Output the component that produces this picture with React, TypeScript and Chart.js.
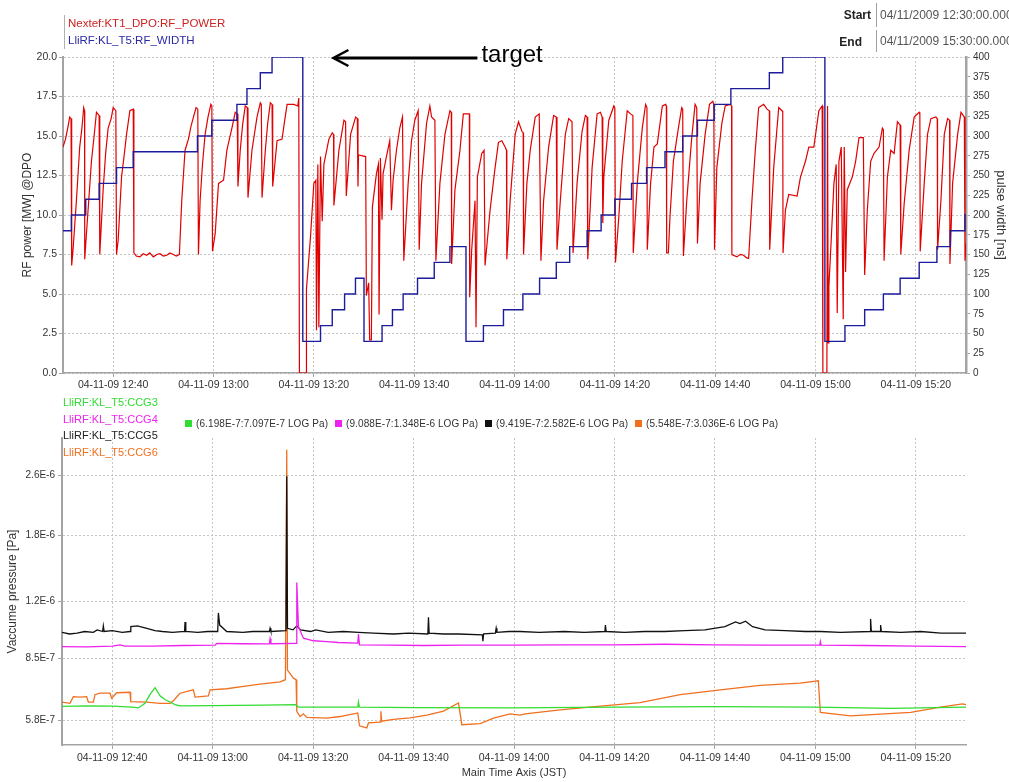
import React, { useEffect, useRef } from "react";
import { Chart, registerables } from "chart.js";

Chart.register(...registerables);

const FONT = '"Liberation Sans", Arial, Helvetica, sans-serif';

// Time axis: minutes after 04-11-09 12:30 JST (window 12:30 - 15:30)
const timeMin = 0;
const timeMax = 180;
const timeTickMinutes = [10, 30, 50, 70, 90, 110, 130, 150, 170];
const timeTickLabels = [
  "04-11-09 12:40", "04-11-09 13:00", "04-11-09 13:20", "04-11-09 13:40", "04-11-09 14:00",
  "04-11-09 14:20", "04-11-09 14:40", "04-11-09 15:00", "04-11-09 15:20",
];

// Nextef:KT1_DPO:RF_POWER [MW]
const rfTime = [
  0, 0.5, 1.0, 1.33, 1.6, 1.73, 2.0, 2.67, 3.33, 3.8, 4.13, 4.3, 4.33, 4.67, 5.67, 6.2, 6.67, 7.2, 7.33, 8.0,
  8.5, 9.0, 9.6, 10.0, 10.53, 10.67, 11.0, 11.67, 12.2, 12.67, 13.33, 14.0, 14.13, 14.6, 15.33, 16.0, 16.67, 17.3, 18.0, 18.7,
  19.33, 20.0, 20.67, 21.3, 22.0, 22.6, 23.2, 23.67, 24.33, 25.0, 25.5, 26.0, 26.53, 26.87, 27.0, 27.33, 27.8, 28.33, 28.9, 29.47,
  29.67, 29.8, 30.33, 31.0, 32.0, 32.67, 33.67, 34.33, 34.73, 34.87, 35.33, 35.8, 36.33, 36.73, 36.87, 37.67, 38.67, 39.33, 39.53, 39.67,
  40.33, 40.8, 41.33, 41.67, 41.8, 42.67, 43.67, 44.2, 44.67, 46.0, 46.8, 47.0, 47.13, 48.47, 48.53, 49.33, 50.0, 50.4, 50.53, 50.8,
  51.0, 51.33, 51.67, 52.0, 53.0, 53.67, 53.93, 54.0, 55.0, 56.0, 56.33, 56.47, 57.33, 58.33, 58.67, 58.8, 58.9, 60.33, 60.47, 60.93,
  61.13, 61.47, 61.67, 62.47, 62.87, 63.0, 63.27, 63.6, 63.8, 64.47, 65.13, 65.47, 65.8, 66.47, 67.13, 67.67, 67.93, 68.8, 69.47, 70.13,
  70.8, 71.0, 71.47, 72.47, 73.13, 73.47, 74.13, 74.33, 75.13, 76.13, 77.13, 77.4, 77.47, 78.13, 79.13, 79.8, 81.0, 81.07, 81.47, 82.13,
  82.33, 82.6, 83.47, 83.93, 84.13, 85.13, 86.13, 86.8, 87.47, 88.13, 88.4, 88.47, 89.13, 90.13, 90.8, 91.47, 91.73, 91.8, 92.47, 93.13,
  94.13, 94.93, 95.27, 95.8, 96.8, 97.8, 98.33, 98.47, 99.13, 100.13, 100.8, 101.47, 101.67, 102.47, 103.47, 104.13, 104.47, 104.6, 105.47, 106.47,
  107.13, 107.47, 107.6, 107.8, 108.8, 109.8, 110.0, 110.13, 110.8, 111.47, 112.47, 113.13, 113.6, 113.67, 114.47, 115.47, 116.13, 116.4, 116.47, 117.13,
  117.8, 118.47, 119.47, 120.13, 120.27, 120.33, 120.67, 121.0, 121.67, 122.67, 123.33, 123.53, 123.67, 124.33, 125.33, 126.0, 126.33, 126.47, 127.0, 128.0,
  128.87, 129.53, 129.73, 129.87, 130.33, 131.33, 132.0, 133.0, 133.27, 133.33, 134.33, 135.0, 135.67, 136.2, 136.67, 137.33, 138.0, 138.67, 139.67, 140.33,
  140.8, 140.87, 141.67, 142.67, 143.33, 143.47, 143.53, 144.0, 144.67, 146.33, 147.0, 148.0, 148.67, 149.67, 150.67, 151.33, 151.47, 152.27, 152.4, 152.53,
  152.67, 153.13, 153.67, 154.13, 154.33, 154.67, 155.13, 155.53, 155.73, 156.0, 156.33, 157.33, 158.0, 158.67, 159.53, 159.8, 160.33, 161.0, 161.67, 162.67,
  163.33, 163.53, 163.67, 164.33, 165.0, 165.67, 166.33, 166.87, 167.0, 167.67, 168.67, 169.67, 170.67, 170.8, 170.87, 171.67, 172.33, 173.0, 174.0, 174.27,
  174.33, 175.0, 175.67, 176.33, 176.73, 176.8, 177.33, 178.33, 179.0, 179.67, 179.8, 180.0,
];
const rfPower = [
  14.3, 14.8, 15.6, 16.2, 16.1, 6.8, 7.8, 10.9, 14.3, 15.6, 16.8, 16.6, 7.2, 8.8, 13.4, 15.0, 16.5, 16.3, 7.5, 11.6,
  13.9, 15.5, 16.1, 16.8, 16.6, 7.5, 8.4, 12.4, 13.8, 15.1, 16.6, 16.7, 7.6, 7.4, 7.35, 7.55, 7.45, 7.6, 7.35, 7.5,
  7.55, 7.4, 7.45, 7.6, 7.5, 7.4, 7.5, 10.9, 14.1, 14.8, 15.6, 16.2, 16.8, 16.7, 7.5, 10.9, 13.2, 15.1, 16.2, 17.0,
  16.9, 7.7, 8.8, 12.0, 12.2, 14.1, 15.5, 16.5, 16.4, 11.8, 14.1, 15.7, 16.9, 16.8, 11.1, 14.1, 16.2, 17.1, 17.0, 11.1,
  14.1, 15.8, 17.1, 17.0, 11.8, 14.7, 14.8, 16.0, 17.0, 17.0, 16.9, 17.4, 0, 0, 5.3, 8.6, 12.0, 12.2, 2.7, 13.2,
  2.9, 13.7, 9.6, 13.2, 14.8, 15.2, 15.1, 10.6, 14.1, 16.0, 15.9, 11.2, 15.1, 16.2, 16.1, 11.8, 13.8, 13.7, 4.9, 5.7,
  2.1, 2.1, 10.5, 12.6, 13.2, 3.7, 13.6, 9.7, 12.6, 13.7, 14.7, 10.3, 12.2, 14.1, 15.5, 16.2, 7.1, 12.0, 14.7, 16.0,
  16.6, 7.8, 12.0, 15.8, 16.9, 16.2, 16.0, 7.1, 12.0, 15.1, 16.6, 16.5, 6.9, 11.6, 14.1, 16.4, 16.4, 4.8, 7.8, 10.9,
  2.9, 12.4, 13.9, 14.1, 6.8, 10.3, 13.0, 14.6, 14.7, 14.3, 14.1, 7.2, 10.9, 15.1, 15.9, 15.3, 15.2, 7.5, 12.0, 14.1,
  16.2, 16.4, 7.1, 10.9, 14.3, 16.3, 16.2, 7.8, 10.9, 15.1, 16.1, 15.9, 7.6, 12.0, 15.3, 16.3, 16.2, 7.2, 13.0, 16.4,
  16.5, 16.2, 9.5, 12.4, 16.0, 16.9, 16.8, 7.0, 9.9, 13.4, 16.6, 16.4, 16.3, 7.6, 12.0, 15.5, 17.0, 16.8, 7.8, 12.0,
  14.3, 14.5, 16.9, 17.0, 16.9, 7.6, 7.6, 9.9, 13.4, 15.5, 16.8, 16.7, 7.4, 10.9, 14.9, 17.0, 16.8, 8.2, 12.0, 15.1,
  17.0, 17.2, 17.0, 7.8, 13.0, 15.8, 16.9, 17.0, 16.9, 7.5, 7.35, 7.5, 7.45, 7.3, 7.25, 10.9, 14.1, 16.8, 17.0, 16.7,
  16.6, 7.8, 13.0, 16.8, 16.6, 16.5, 7.6, 10.3, 11.3, 11.2, 12.4, 13.4, 14.3, 14.3, 16.6, 16.9, 0, 0, 16.9, 1.9,
  5.5, 8.4, 12.0, 13.2, 3.8, 13.4, 14.3, 3.4, 14.3, 6.4, 11.6, 12.4, 13.4, 14.9, 14.9, 6.2, 10.3, 13.4, 13.9, 14.3,
  15.5, 15.4, 7.1, 12.4, 14.1, 13.9, 15.9, 15.7, 7.5, 10.7, 14.1, 16.2, 16.5, 16.4, 7.7, 12.0, 15.1, 16.1, 16.2, 16.1,
  7.8, 10.9, 15.1, 16.1, 16.0, 6.9, 12.0, 15.1, 16.5, 16.2, 7.1, 8.2,
];

// LliRF:KL_T5:RF_WIDTH [ns] - each value holds from its time until the next one
const widthTime = [
  0, 1.67, 4.53, 7.2, 10.67, 14.0, 26.8, 29.67, 34.67, 36.67, 39.33, 41.67, 47.8, 51.33, 53.67, 56.13, 58.3, 60.0,
  63.6, 65.67, 67.8, 70.67, 74.0, 77.13, 80.33, 83.8, 87.8, 91.67, 95.0, 98.33, 101.0, 104.47, 107.27, 110.0, 113.33, 116.33,
  120.0, 123.53, 126.47, 129.8, 133.13, 140.8, 143.47, 151.87, 155.87, 159.8, 163.53, 166.87, 170.67, 174.2, 176.87, 179.8, 180,
];
const widthNs = [
  180, 200, 220, 240, 260, 280, 300, 320, 340, 360, 380, 400, 40, 60, 80, 100, 120, 40,
  60, 80, 100, 120, 140, 160, 40, 60, 80, 100, 120, 140, 160, 180, 200, 220, 240, 260,
  280, 300, 320, 340, 360, 380, 400, 40, 60, 80, 100, 120, 140, 160, 180, 200, 200,
];

// Left axis (RF power) and right axis (pulse width) ranges
const powerMax = 20;
const powerStep = 2.5;
const widthMax = 400;
const widthStep = 25;

// Vacuum gauges [Pa]
const ccg3Time = [0, 5, 10, 14, 15.2, 16.53, 17.5, 18.52, 19.52, 20.5, 21.51, 22.5, 23.5, 30, 40, 46.5, 47.08, 55, 58.9, 59.03, 59.23, 70, 90, 110, 130, 150, 165, 180];
const ccg3 = [6.33e-7, 6.35e-7, 6.34e-7, 6.3e-7, 6.27e-7, 6.45e-7, 6.8e-7, 7.097e-7, 6.75e-7, 6.6e-7, 6.5e-7, 6.4e-7, 6.35e-7, 6.36e-7, 6.38e-7, 6.4e-7, 6.3e-7, 6.3e-7, 6.3e-7, 6.5e-7, 6.3e-7, 6.28e-7, 6.27e-7, 6.3e-7, 6.32e-7, 6.3e-7, 6.25e-7, 6.3e-7];

const ccg4Time = [0, 5, 10, 11.55, 12.5, 18, 24, 30.5, 30.81, 36, 41.3, 41.43, 41.6, 46.6, 46.75, 47.08, 48.07, 50.07, 52.72, 55, 58.9, 59.03, 59.23, 65, 72, 80, 90, 100, 110, 120, 130, 140, 150.9, 151, 151.15, 160, 170, 180];
const ccg4 = [9.12e-7, 9.1e-7, 9.15e-7, 9.22e-7, 9.15e-7, 9.15e-7, 9.18e-7, 9.2e-7, 9.3e-7, 9.28e-7, 9.27e-7, 9.56e-7, 9.28e-7, 9.3e-7, 1.348e-6, 1.03e-6, 9.6e-7, 9.45e-7, 9.4e-7, 9.35e-7, 9.32e-7, 9.85e-7, 9.22e-7, 9.2e-7, 9.18e-7, 9.2e-7, 9.2e-7, 9.22e-7, 9.22e-7, 9.25e-7, 9.22e-7, 9.2e-7, 9.2e-7, 9.4e-7, 9.2e-7, 9.18e-7, 9.15e-7, 9.12e-7];

const ccg5Time = [
  0, 1.5, 3, 4.5, 6.24, 7.0, 8.1, 8.23, 8.4, 10, 12, 13.55, 13.7, 15, 16.9, 18.5, 20, 22, 24.4, 24.5,
  24.65, 27, 29, 31.0, 31.14, 31.4, 32.8, 36, 38, 41.3, 41.43, 41.6, 44.6, 44.75, 44.9, 46.0, 46.75, 47.5, 49.5, 50.5,
  53, 56, 59.03, 62, 66, 69, 72.85, 72.97, 73.1, 76, 79, 83.7, 83.8, 83.95, 86.3, 86.45, 86.6, 89, 91.2, 95,
  100, 104, 108.1, 108.2, 108.35, 112, 116, 120, 124, 128, 132, 134.1, 135, 136.1, 137.5, 140, 144, 148, 151, 155,
  160.9, 161, 161.15, 162.9, 163, 163.15, 167, 171, 175, 180,
];
const ccg5 = [
  9.95e-7, 9.85e-7, 9.9e-7, 1.0e-6, 9.95e-7, 1.01e-6, 1.0e-6, 1.035e-6, 1.0e-6, 1.005e-6, 9.95e-7, 1.0e-6, 1.03e-6, 1.035e-6, 1.02e-6, 1.005e-6, 1.0e-6, 9.95e-7, 1.0e-6, 1.06e-6,
  1.0e-6, 9.95e-7, 1.0e-6, 1.0e-6, 1.12e-6, 1.04e-6, 1.0e-6, 9.95e-7, 1.0e-6, 1.0e-6, 1.02e-6, 1.0e-6, 1.005e-6, 2.582e-6, 1.02e-6, 1.01e-6, 1.035e-6, 1.01e-6, 1.0e-6, 1.01e-6,
  9.95e-7, 1.0e-6, 9.95e-7, 9.9e-7, 9.85e-7, 9.9e-7, 9.85e-7, 1.09e-6, 9.9e-7, 9.85e-7, 9.85e-7, 9.8e-7, 9.42e-7, 9.85e-7, 9.9e-7, 1.02e-6, 9.95e-7, 1.0e-6, 1.0e-6, 9.95e-7,
  1.0e-6, 9.95e-7, 1.0e-6, 1.04e-6, 1.0e-6, 9.95e-7, 1.0e-6, 1.0e-6, 1.005e-6, 1.01e-6, 1.03e-6, 1.06e-6, 1.05e-6, 1.065e-6, 1.03e-6, 1.01e-6, 1.005e-6, 1.0e-6, 1.0e-6, 9.95e-7,
  1.0e-6, 1.08e-6, 1.0e-6, 1.0e-6, 1.04e-6, 1.0e-6, 9.95e-7, 1.0e-6, 9.9e-7, 9.9e-7,
];

const ccg6Time = [
  0, 1.59, 2.26, 3.58, 4.91, 5.24, 6.24, 6.57, 7.57, 9.56, 9.89, 10.89, 13.55, 13.68, 16.87, 19.52, 21.51, 22.18, 23.5, 26.16,
  26.49, 29.15, 29.48, 32.8, 36.12, 39.44, 43.42, 44.49, 44.75, 44.89, 46.08, 46.61, 46.75, 47.41, 48.07, 48.74, 52.72, 55.38, 58.03, 58.9,
  59.23, 60.69, 61.02, 63.35, 63.5, 63.65, 66.0, 69.32, 72.64, 75.96, 78.95, 79.61, 83.27, 85.92, 89.24, 91.2, 92.2, 99.2, 107.2, 115.1,
  123.1, 131.1, 139, 147, 150.6, 151, 157, 163, 169, 174.9, 179.3, 180,
];
const ccg6 = [
  6.5e-7, 6.45e-7, 6.72e-7, 6.7e-7, 6.72e-7, 6.5e-7, 6.5e-7, 6.8e-7, 6.86e-7, 6.86e-7, 6.65e-7, 6.88e-7, 6.9e-7, 6.52e-7, 6.5e-7, 6.45e-7, 6.45e-7, 6.55e-7, 6.86e-7, 7.0e-7,
  6.7e-7, 6.75e-7, 7.0e-7, 7.05e-7, 7.15e-7, 7.25e-7, 7.35e-7, 7.45e-7, 3.036e-6, 7.9e-7, 7.52e-7, 7.45e-7, 6.14e-7, 5.95e-7, 6.05e-7, 5.92e-7, 5.89e-7, 5.95e-7, 6.05e-7, 6.08e-7,
  5.62e-7, 5.55e-7, 5.72e-7, 5.75e-7, 6.14e-7, 5.78e-7, 5.85e-7, 5.9e-7, 6.0e-7, 6.15e-7, 6.46e-7, 5.66e-7, 5.7e-7, 5.89e-7, 6.05e-7, 6.0e-7, 6.05e-7, 6.2e-7, 6.34e-7, 6.48e-7,
  6.8e-7, 7.0e-7, 7.2e-7, 7.3e-7, 7.4e-7, 6.1e-7, 5.97e-7, 6.04e-7, 6.1e-7, 6.3e-7, 6.43e-7, 6.4e-7,
];

// Log axis of the vacuum chart
const pressureMin = 5.0e-7;
const pressureMax = 3.26e-6;
const pressureTicks = [5.8e-7, 8.5e-7, 1.2e-6, 1.8e-6, 2.6e-6];
const pressureTickLabels = ["5.8E-7", "8.5E-7", "1.2E-6", "1.8E-6", "2.6E-6"];

// Series names and colours
const RED = "#e00000";
const BLUE = "#1c1c9c";
const GREEN = "#30dd30";
const MAGENTA = "#ee22ee";
const BLACK = "#111111";
const ORANGE = "#f07020";

const ccgNames = ["LliRF:KL_T5:CCG3", "LliRF:KL_T5:CCG4", "LliRF:KL_T5:CCG5", "LliRF:KL_T5:CCG6"];
const ccgColors = [GREEN, MAGENTA, BLACK, ORANGE];
const ccgRanges = [
  "(6.198E-7:7.097E-7 LOG Pa)",
  "(9.088E-7:1.348E-6 LOG Pa)",
  "(9.419E-7:2.582E-6 LOG Pa)",
  "(5.548E-7:3.036E-6 LOG Pa)",
];

// Annotation arrow (minutes on the time axis)
const arrowTipMinute = 53.9;
const arrowTailMinute = 82.6;

const toPoints = (xs: number[], ys: number[]) => xs.map((x, i) => ({ x, y: ys[i] }));

const GRID = "#c6c6c6";
const AXIS = "#a4a4a4";
const TICK_TEXT = "#333333";

function timeAxis(height: number, withTitle: boolean) {
  return {
    type: "linear",
    min: timeMin,
    max: timeMax,
    afterBuildTicks: (s: any) => {
      s.ticks = timeTickMinutes.map((v) => ({ value: v }));
    },
    afterFit: (s: any) => {
      s.height = height;
    },
    ticks: {
      autoSkip: false,
      maxRotation: 0,
      callback: (_v: any, i: number) => timeTickLabels[i],
      font: { family: FONT, size: 10.5 },
      color: TICK_TEXT,
      padding: withTitle ? 3 : 2,
    },
    grid: { color: GRID, lineWidth: 1, tickLength: 4, tickColor: AXIS, tickBorderDash: [] },
    border: { color: AXIS, width: 1.5, dash: [2, 2] },
    title: withTitle
      ? { display: true, text: "Main Time Axis (JST)", color: TICK_TEXT, font: { family: FONT, size: 11 }, padding: { top: 0, bottom: 2 } }
      : { display: false },
  };
}

const targetArrow = {
  id: "targetArrow",
  afterDatasetsDraw(chart: any) {
    const { ctx } = chart;
    const xs = chart.scales.x;
    const ys = chart.scales.yPower;
    const tip = xs.getPixelForValue(arrowTipMinute);
    const tail = xs.getPixelForValue(arrowTailMinute);
    const y = ys.getPixelForValue(powerMax) + 1;
    ctx.save();
    ctx.strokeStyle = "#000";
    ctx.lineWidth = 3;
    ctx.beginPath();
    ctx.moveTo(tip + 2, y);
    ctx.lineTo(tail, y);
    ctx.stroke();
    ctx.lineWidth = 2.5;
    ctx.beginPath();
    ctx.moveTo(tip + 15, y - 8);
    ctx.lineTo(tip, y);
    ctx.lineTo(tip + 15, y + 8);
    ctx.stroke();
    ctx.fillStyle = "#000";
    ctx.font = `24px ${FONT}`;
    ctx.textBaseline = "middle";
    ctx.fillText("target", tail + 4, y - 3);
    ctx.restore();
  },
};

export default function App() {
  const topRef = useRef<HTMLCanvasElement>(null);
  const bottomRef = useRef<HTMLCanvasElement>(null);

  useEffect(() => {
    const top = new Chart(topRef.current as HTMLCanvasElement, {
      type: "line",
      data: {
        datasets: [
          {
            label: "LliRF:KL_T5:RF_WIDTH",
            data: toPoints(widthTime, widthNs),
            borderColor: BLUE,
            borderWidth: 1.4,
            pointRadius: 0,
            stepped: true,
            yAxisID: "yWidth",
            order: 0,
          },
          {
            label: "Nextef:KT1_DPO:RF_POWER",
            data: toPoints(rfTime, rfPower),
            borderColor: RED,
            borderWidth: 1.2,
            pointRadius: 0,
            tension: 0,
            yAxisID: "yPower",
            order: 1,
          },
        ],
      },
      options: {
        responsive: false,
        animation: false,
        events: [],
        layout: { padding: { top: 57, left: 0, right: 0, bottom: 0 } },
        plugins: { legend: { display: false }, tooltip: { enabled: false } },
        scales: {
          x: timeAxis(22, false),
          yPower: {
            type: "linear",
            position: "left",
            min: 0,
            max: powerMax,
            afterFit: (s: any) => {
              s.width = 63;
            },
            ticks: {
              stepSize: powerStep,
              autoSkip: false,
              callback: (v: any) => Number(v).toFixed(1),
              font: { family: FONT, size: 10.5 },
              color: TICK_TEXT,
              padding: 2,
            },
            grid: { color: GRID, tickLength: 4, tickColor: AXIS, tickBorderDash: [] },
            border: { color: AXIS, width: 2, dash: [2, 2] },
            title: {
              display: true,
              text: "RF power [MW] @DPO",
              color: TICK_TEXT,
              font: { family: FONT, size: 12 },
              padding: { top: 20, bottom: 0 },
            },
          },
          yWidth: {
            type: "linear",
            position: "right",
            min: 0,
            max: widthMax,
            afterFit: (s: any) => {
              s.width = 43;
            },
            ticks: {
              stepSize: widthStep,
              autoSkip: false,
              font: { family: FONT, size: 10 },
              color: TICK_TEXT,
              padding: 3,
            },
            grid: { drawOnChartArea: false, tickLength: 4, tickColor: AXIS },
            border: { color: AXIS, width: 2.5 },
            title: {
              display: true,
              text: "pulse width [ns]",
              color: TICK_TEXT,
              font: { family: FONT, size: 13 },
              padding: { top: 1, bottom: 0 },
            },
          },
        },
      } as any,
      plugins: [targetArrow],
    } as any);

    const ccgTimes = [ccg3Time, ccg4Time, ccg5Time, ccg6Time];
    const ccgValues = [ccg3, ccg4, ccg5, ccg6];
    const bottom = new Chart(bottomRef.current as HTMLCanvasElement, {
      type: "line",
      data: {
        datasets: ccgNames.map((name, i) => ({
          label: name,
          data: toPoints(ccgTimes[i], ccgValues[i]),
          borderColor: ccgColors[i],
          borderWidth: 1.3,
          pointRadius: 0,
          tension: 0,
          order: i,
        })),
      },
      options: {
        responsive: false,
        animation: false,
        events: [],
        layout: { padding: { top: 43, left: 0, right: 43, bottom: 0 } },
        plugins: { legend: { display: false }, tooltip: { enabled: false } },
        scales: {
          x: timeAxis(37, true),
          y: {
            type: "logarithmic",
            position: "left",
            min: pressureMin,
            max: pressureMax,
            afterBuildTicks: (s: any) => {
              s.ticks = pressureTicks.map((v) => ({ value: v }));
            },
            afterFit: (s: any) => {
              s.width = 62;
            },
            ticks: {
              autoSkip: false,
              callback: (_v: any, i: number) => pressureTickLabels[i],
              font: { family: FONT, size: 10 },
              color: TICK_TEXT,
              padding: 3,
            },
            grid: { color: GRID, tickLength: 4, tickColor: AXIS, tickBorderDash: [] },
            border: { color: AXIS, width: 2, dash: [2, 2] },
            title: {
              display: true,
              text: "Vaccume pressure [Pa]",
              color: TICK_TEXT,
              font: { family: FONT, size: 12 },
              padding: { top: 5, bottom: 0 },
            },
          },
        },
      } as any,
    } as any);

    return () => {
      top.destroy();
      bottom.destroy();
    };
  }, []);

  const abs = (s: any) => ({ position: "absolute", whiteSpace: "nowrap", ...s });

  return (
    <div style={{ position: "absolute", left: 0, top: 0, width: 1009, height: 782, background: "#fff", overflow: "hidden", fontFamily: FONT }}>
      <canvas ref={topRef} width={1009} height={395} style={{ position: "absolute", left: 0, top: 0 }} />
      <canvas ref={bottomRef} width={1009} height={387} style={{ position: "absolute", left: 0, top: 395 }} />

      {/* upper chart series names */}
      <div style={abs({ left: 64, top: 15, height: 34, borderLeft: "1px solid #b0b0b0", paddingLeft: 3, fontSize: 11.5, lineHeight: "17px" })}>
        <div style={{ color: "#cc2222" }}>Nextef:KT1_DPO:RF_POWER</div>
        <div style={{ color: "#2a2aa8" }}>LliRF:KL_T5:RF_WIDTH</div>
      </div>

      {/* time window */}
      <div style={abs({ left: 820, top: 8, width: 51, textAlign: "right", fontWeight: "bold", fontSize: 12, color: "#222" })}>Start</div>
      <div style={abs({ left: 876, top: 3, height: 24, lineHeight: "24px", borderLeft: "1px solid #a0a0a0", paddingLeft: 3, fontSize: 12, color: "#555" })}>
        04/11/2009 12:30:00.000
      </div>
      <div style={abs({ left: 820, top: 35, width: 42, textAlign: "right", fontWeight: "bold", fontSize: 12, color: "#222" })}>End</div>
      <div style={abs({ left: 876, top: 30, height: 22, lineHeight: "22px", borderLeft: "1px solid #a0a0a0", paddingLeft: 3, fontSize: 12, color: "#555" })}>
        04/11/2009 15:30:00.000
      </div>

      {/* vacuum chart series names */}
      <div style={abs({ left: 63, top: 394, fontSize: 11, lineHeight: "16.7px" })}>
        {ccgNames.map((n, i) => (
          <div key={n} style={{ color: ccgColors[i] === BLACK ? "#222" : ccgColors[i] }}>{n}</div>
        ))}
      </div>

      {/* value ranges */}
      {ccgRanges.map((r, i) => (
        <div key={r} style={abs({ left: 185 + i * 150, top: 417, fontSize: 10, lineHeight: "14px", color: "#333", letterSpacing: "0.1px" })}>
          <span style={{ display: "inline-block", width: 7, height: 7, background: ccgColors[i], marginRight: 4, verticalAlign: "0px" }} />
          {r}
        </div>
      ))}
    </div>
  );
}
